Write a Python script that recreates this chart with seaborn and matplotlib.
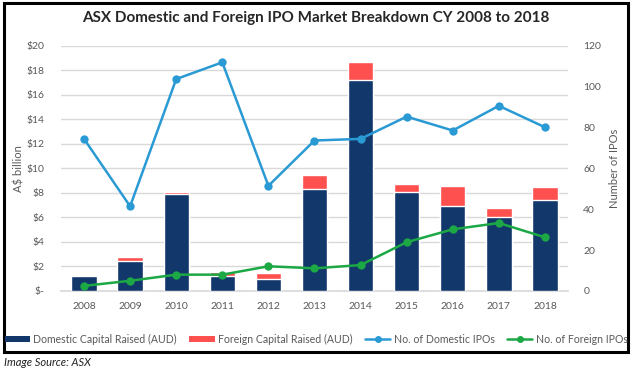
import numpy as np
import pandas as pd
import matplotlib
matplotlib.use("Agg")
import matplotlib.pyplot as plt
import seaborn as sns
from matplotlib.patches import Rectangle
from matplotlib.lines import Line2D
from matplotlib.patches import Patch

years = ["2008", "2009", "2010", "2011", "2012", "2013", "2014", "2015", "2016", "2017", "2018"]
domestic_capital = [1.2, 2.45, 7.9, 1.2, 1.0, 8.3, 17.2, 8.1, 6.9, 6.0, 7.4]
foreign_capital = [0.05, 0.35, 0.2, 0.35, 0.5, 1.2, 1.5, 0.6, 1.7, 0.75, 1.1]
domestic_ipos = [74.5, 41.5, 103.8, 112, 51.5, 73.7, 74.5, 85.4, 78.6, 90.7, 80.2]
foreign_ipos = [2.5, 5, 8, 8, 12.1, 11.1, 12.7, 23.9, 30.2, 33.3, 26.3]
left_ticks = [0, 2, 4, 6, 8, 10, 12, 14, 16, 18, 20]
left_labels = ["$-", "$2", "$4", "$6", "$8", "$10", "$12", "$14", "$16", "$18", "$20"]
right_ticks = [0, 20, 40, 60, 80, 100, 120]

NAVY = "#12376A"
RED = "#FF5050"
BLUE = "#2A9AD4"
GREEN = "#1CA845"
TXT = "#595959"

sns.set_theme(style="white")
plt.rcParams["font.family"] = ["Lato", "DejaVu Sans"]

df = pd.DataFrame({
    "year": years,
    "dom": domestic_capital,
    "total": np.array(domestic_capital) + np.array(foreign_capital),
    "dipo": domestic_ipos,
    "fipo": foreign_ipos,
    "idx": np.arange(len(years)),
})

fig = plt.figure(figsize=(6.32, 3.76), dpi=100)
ax = fig.add_axes([0.0965, 0.2261, 0.8022, 0.6516])

sns.barplot(data=df, x="year", y="total", color=RED, saturation=1, width=0.55, ax=ax, zorder=2)
sns.barplot(data=df, x="year", y="dom", color=NAVY, saturation=1, width=0.55, ax=ax, zorder=3)
ax.set_ylim(0, 20)
ax.set_xlim(-0.5, len(years) - 0.5)
ax.set_yticks(left_ticks)
ax.set_yticklabels(left_labels)
ax.yaxis.grid(True, color="#D9D9D9", linewidth=1)
ax.set_axisbelow(True)
ax.set_xlabel("")
ax.set_ylabel("A$ billion", color=TXT, fontsize=8, labelpad=1)
for s in ax.spines.values():
    s.set_visible(False)
ax.spines["bottom"].set_visible(True)
ax.spines["bottom"].set_color("#D9D9D9")
ax.tick_params(axis="both", length=0, labelsize=7.5, colors=TXT, pad=8)
ax.tick_params(axis="y", pad=12)

ax2 = ax.twinx()
sns.lineplot(data=df, x="idx", y="dipo", color=BLUE, marker="o", markersize=6,
             markeredgewidth=0, linewidth=1.8, ax=ax2, zorder=4)
sns.lineplot(data=df, x="idx", y="fipo", color=GREEN, marker="o", markersize=6,
             markeredgewidth=0, linewidth=1.8, ax=ax2, zorder=4)
ax2.set_ylim(0, 120)
ax2.set_xlim(-0.5, len(years) - 0.5)
ax2.set_yticks(right_ticks)
ax2.set_xlabel("")
ax2.set_ylabel("Number of IPOs", color=TXT, fontsize=8, labelpad=6)
for s in ax2.spines.values():
    s.set_visible(False)
ax2.tick_params(axis="y", length=0, labelsize=7.5, colors=TXT, pad=11)
ax2.grid(False)

fig.text(0.5, 0.953, "ASX Domestic and Foreign IPO Market Breakdown CY 2008 to 2018",
         ha="center", va="center", fontsize=11, fontweight="bold", color="#262626")

handles = [
    Patch(facecolor=NAVY, edgecolor="none"),
    Patch(facecolor=RED, edgecolor="none"),
    Line2D([], [], color=BLUE, marker="o", markersize=4, linewidth=1.8),
    Line2D([], [], color=GREEN, marker="o", markersize=4, linewidth=1.8),
]
labels = ["Domestic Capital Raised (AUD)", "Foreign Capital Raised (AUD)",
          "No. of Domestic IPOs", "No. of Foreign IPOs"]
fig.legend(handles, labels, loc="center", bbox_to_anchor=(0.5, 0.098), ncol=4,
           frameon=False, fontsize=7.6, handlelength=2.4, handleheight=0.5,
           columnspacing=1.2, handletextpad=0.3, labelcolor=TXT,
           borderpad=0, borderaxespad=0)

fig.patches.append(Rectangle((0.006, 0.064), 0.988, 0.928, transform=fig.transFigure,
                             fill=False, edgecolor="black", linewidth=2.2))
fig.text(0.006, 0.035, "Image Source: ASX", fontsize=8, style="italic",
         ha="left", va="center", color="#222222")

fig.savefig("out.png", dpi=100)
